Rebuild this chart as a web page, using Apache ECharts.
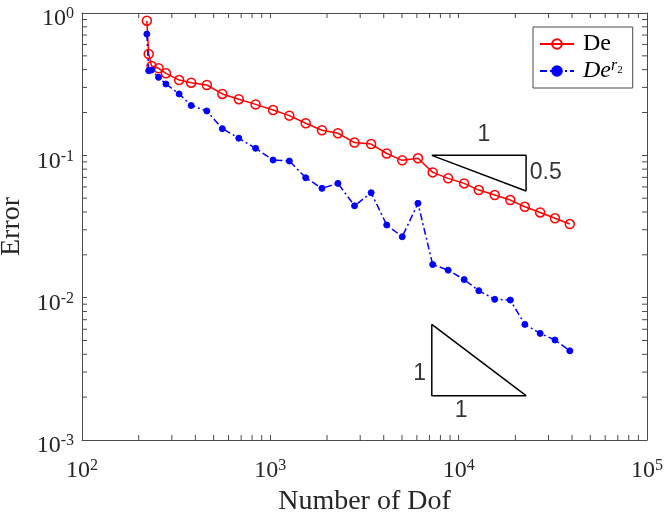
<!DOCTYPE html>
<html>
<head>
<meta charset="utf-8">
<script src="https://cdn.jsdelivr.net/npm/echarts@6/dist/echarts.min.js"></script>
<style>
html, body { margin: 0; padding: 0; background: #fff; }
#chart { width: 664px; height: 515px; }
</style>
</head>
<body>
<div id="chart"></div>
<script>
// 自由度数目 (横轴)
const dof = [221, 226, 234, 255, 279, 328, 380, 460, 556, 680, 835, 1034, 1262, 1541, 1880,
    2285, 2800, 3430, 4150, 5017, 6080, 7278, 8795, 10690, 12790, 15540, 18800, 22450, 27090, 32460, 38920];
// 两种估计子的误差
const errDe = [0.883, 0.515, 0.425, 0.409, 0.377, 0.338, 0.324, 0.312, 0.270, 0.248, 0.228, 0.208, 0.190, 0.168, 0.150,
    0.143, 0.123, 0.120, 0.103, 0.0922, 0.0953, 0.0759, 0.0689, 0.0635, 0.0570, 0.0526, 0.0485, 0.0435, 0.0397, 0.0361, 0.0329];
const errDeR2 = [0.711, 0.393, 0.397, 0.353, 0.317, 0.270, 0.224, 0.205, 0.154, 0.132, 0.112, 0.0927, 0.0912, 0.0696, 0.0586,
    0.0635, 0.0442, 0.0546, 0.0324, 0.0268, 0.0460, 0.0171, 0.0156, 0.0134, 0.0112, 0.00973, 0.00962, 0.00649, 0.00561, 0.00504, 0.00423];

// 斜率三角形 (数据坐标)
const triHalf = [[7200, 0.1], [22800, 0.1], [22800, 0.0562], [7200, 0.1]];
const triOne = [[7200, 0.0065], [7200, 0.00205], [22800, 0.00205], [7200, 0.0065]];
const triLabels = [
    {name: '1', value: [13600, 0.139]},
    {name: '0.5', value: [29000, 0.0755]},
    {name: '1', value: [6200, 0.00294]},
    {name: '1', value: [10300, 0.00162]}
];

// 对数坐标的次刻度
const xMinor = [];
const yMinor = [];
[100, 1000, 10000].forEach(d => { for (let m = 2; m <= 9; m++) xMinor.push([m * d, 0.01]); });
[0.001, 0.01, 0.1].forEach(d => { for (let m = 2; m <= 9; m++) yMinor.push([1000, m * d]); });

const serif = 'Liberation Serif';
const axisColor = '#4a4a4a';
const textColor = '#262626';
const tickLen = 5;

const powRich = {
    b: {fontFamily: serif, fontSize: 24, color: textColor, lineHeight: 26},
    e: {fontFamily: serif, fontSize: 16, color: textColor, verticalAlign: 'top', lineHeight: 14}
};
const powLabel = v => '{b|10}{e|' + Math.round(Math.log10(v)) + '}';

let chart = echarts.init(document.getElementById('chart'));

// 用自定义系列画次刻度 (上下、左右各一份)
function minorTicks(isX) {
    return function (params, api) {
        const cs = params.coordSys;
        const p = api.coord([api.value(0), api.value(1)]);
        if (isX) {
            return {type: 'group', children: [
                {type: 'line', shape: {x1: p[0], y1: cs.y + cs.height, x2: p[0], y2: cs.y + cs.height - tickLen},
                    style: {stroke: axisColor, lineWidth: 1}},
                {type: 'line', shape: {x1: p[0], y1: cs.y, x2: p[0], y2: cs.y + tickLen},
                    style: {stroke: axisColor, lineWidth: 1}}
            ]};
        }
        return {type: 'group', children: [
            {type: 'line', shape: {x1: cs.x, y1: p[1], x2: cs.x + tickLen, y2: p[1]},
                style: {stroke: axisColor, lineWidth: 1}},
            {type: 'line', shape: {x1: cs.x + cs.width, y1: p[1], x2: cs.x + cs.width - tickLen, y2: p[1]},
                style: {stroke: axisColor, lineWidth: 1}}
        ]};
    };
}

function axisParts() {
    return {
        axisLine: {show: true, onZero: false, lineStyle: {color: axisColor, width: 1}},
        axisTick: {show: true, inside: true, length: tickLen, lineStyle: {color: axisColor, width: 1}},
        splitLine: {show: false}
    };
}

let option = {
    backgroundColor: '#fff',
    animation: false,
    grid: {left: 82, top: 13, right: 17, bottom: 75, containLabel: false, outerBoundsMode: 'none'},
    legend: {
        orient: 'vertical',
        left: 533,
        top: 27,
        padding: [5, 10, 5, 6],
        itemGap: 2,
        itemWidth: 34,
        itemHeight: 12,
        backgroundColor: '#fff',
        borderColor: axisColor,
        borderWidth: 1,
        borderRadius: 0,
        data: ['De', 'DeR2'],
        formatter: n => n === 'De' ? '{n|De}' : '{i|De}{s|r}{t|2}',
        textStyle: {
            rich: {
                n: {fontFamily: serif, fontSize: 24, color: '#000', lineHeight: 26, padding: [0, 0, 0, 4]},
                i: {fontFamily: serif, fontStyle: 'italic', fontSize: 24, color: '#000', lineHeight: 26, padding: [0, 0, 0, 4]},
                s: {fontFamily: serif, fontStyle: 'italic', fontSize: 16, color: '#000', verticalAlign: 'top', lineHeight: 16},
                t: {fontFamily: serif, fontSize: 11, color: '#000', verticalAlign: 'top', lineHeight: 11, padding: [7, 0, 0, 0]}
            }
        }
    },
    xAxis: [Object.assign({
        type: 'log', logBase: 10, min: 100, max: 100000, position: 'bottom',
        name: 'Number of Dof', nameLocation: 'middle', nameGap: 47,
        nameTextStyle: {fontFamily: serif, fontSize: 28, color: textColor},
        axisLabel: {formatter: powLabel, rich: powRich, margin: 18}
    }, axisParts()), Object.assign({
        type: 'log', logBase: 10, min: 100, max: 100000, position: 'top',
        axisLabel: {show: false}
    }, axisParts())],
    yAxis: [Object.assign({
        type: 'log', logBase: 10, min: 0.001, max: 1, position: 'left',
        name: 'Error', nameLocation: 'middle', nameGap: 53, nameRotate: 90,
        nameTextStyle: {fontFamily: serif, fontSize: 28, color: textColor},
        axisLabel: {formatter: powLabel, rich: powRich, margin: 8, padding: [12, 0, 0, 0]}
    }, axisParts()), Object.assign({
        type: 'log', logBase: 10, min: 0.001, max: 1, position: 'right',
        axisLabel: {show: false}
    }, axisParts())],
    series: [
        {
            name: 'xMinor', type: 'custom', silent: true, data: xMinor, z: 5,
            xAxisIndex: 1, yAxisIndex: 1,
            renderItem: minorTicks(true), clip: false
        },
        {
            name: 'yMinor', type: 'custom', silent: true, data: yMinor, z: 5,
            xAxisIndex: 1, yAxisIndex: 1,
            renderItem: minorTicks(false), clip: false
        },
        {
            name: 'triHalf', type: 'line', data: triHalf, symbol: 'none', silent: true,
            lineStyle: {color: '#000', width: 1.5}
        },
        {
            name: 'triOne', type: 'line', data: triOne, symbol: 'none', silent: true,
            lineStyle: {color: '#000', width: 1.5}
        },
        {
            name: 'triLabels', type: 'scatter', data: triLabels, symbolSize: 0, silent: true,
            label: {
                show: true, position: 'inside', formatter: p => p.name,
                fontFamily: 'Liberation Sans', fontSize: 23, color: '#000'
            }
        },
        {
            name: 'De', type: 'line',
            data: dof.map((x, i) => [x, errDe[i]]),
            symbol: 'circle', symbolSize: 9,
            itemStyle: {color: 'rgba(255,255,255,0)', borderColor: '#ff0000', borderWidth: 1.5},
            lineStyle: {color: '#ff0000', width: 1.5},
            z: 3
        },
        {
            name: 'DeR2', type: 'line',
            data: dof.map((x, i) => [x, errDeR2[i]]),
            symbol: 'circle', symbolSize: 6,
            itemStyle: {color: '#0000ff', borderColor: '#0000ff', borderWidth: 1},
            lineStyle: {color: '#0000ff', width: 1.5, type: [7, 3, 2, 3]},
            z: 3
        }
    ]
};

chart.setOption(option);
</script>
</body>
</html>
